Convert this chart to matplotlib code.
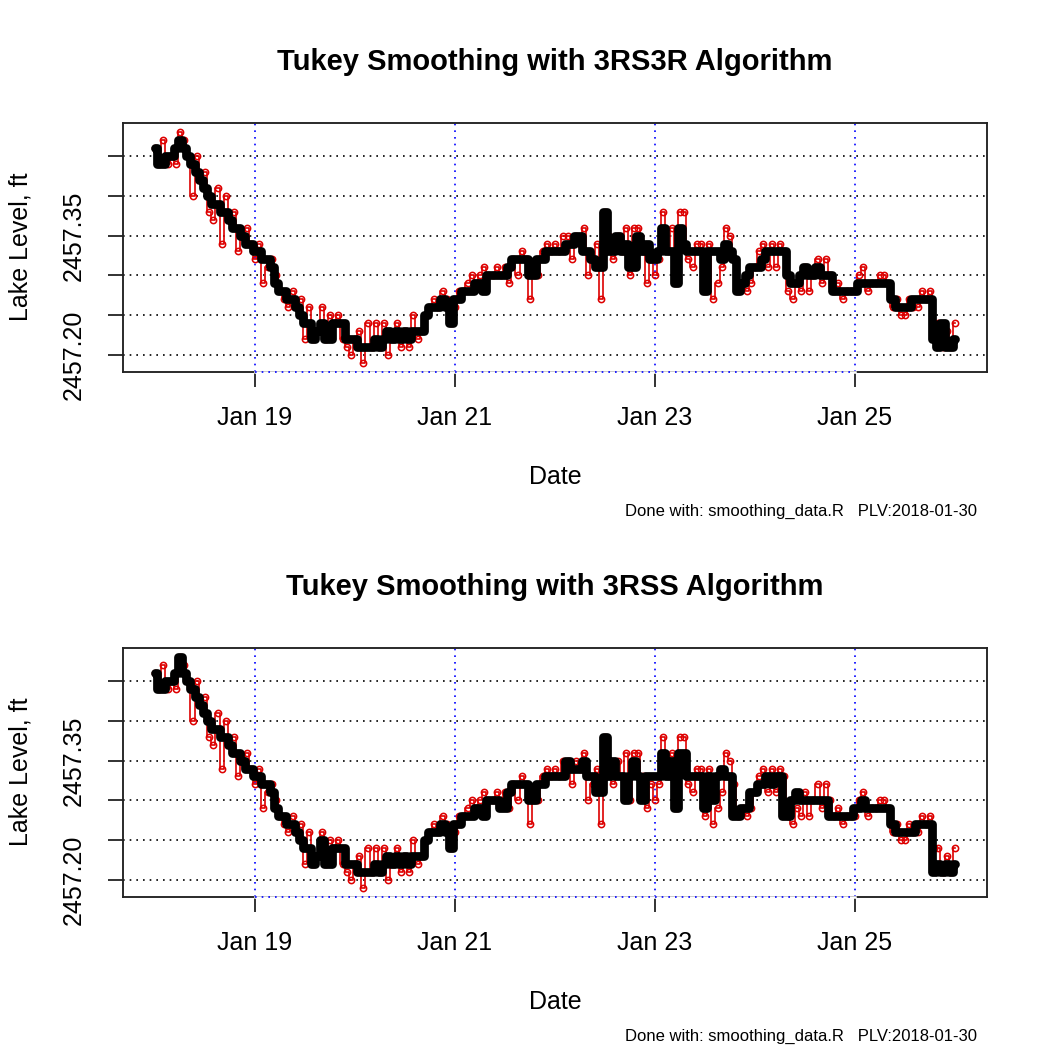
import numpy as np
import matplotlib
matplotlib.use("Agg")
import matplotlib.pyplot as plt
import matplotlib.dates as mdates

plt.rcParams['font.family'] = ['Liberation Sans', 'DejaVu Sans']

# hourly readings from 2018-01-18 00:00, in hundredths of a foot above 2457 ft
START = np.datetime64('2018-01-18T00:00')
BASE_FT = 2457.0

raw_level = [
    46, 44, 47, 44, 45, 44, 48, 47, 45, 40, 45, 42, 43, 38, 37, 41, 34, 40, 37, 38, 33, 35, 36, 34,
    32, 34, 29, 31, 32, 30, 28, 27, 26, 28, 26, 27, 22, 26, 22, 23, 26, 22, 25, 24, 25, 22, 21, 20,
    22, 23, 19, 24, 21, 24, 21, 24, 20, 22, 24, 21, 23, 21, 25, 22, 23, 25, 26, 27, 26, 28, 27, 24,
    26, 28, 28, 29, 30, 29, 30, 31, 30, 30, 31, 30, 31, 29, 32, 30, 33, 32, 27, 30, 30, 33, 34, 33,
    34, 33, 35, 35, 32, 35, 34, 36, 30, 32, 34, 27, 38, 35, 32, 35, 33, 36, 30, 36, 36, 33, 29, 32,
    30, 32, 38, 33, 36, 29, 38, 38, 32, 31, 34, 34, 28, 34, 27, 29, 31, 36, 35, 32, 28, 29, 28, 29,
    31, 33, 34, 31, 34, 31, 34, 33, 28, 27, 29, 28, 31, 28, 30, 32, 29, 32, 30, 28, 29, 27, 28, 28,
    28, 30, 31, 28, 29, 29, 30, 30, 29, 26, 27, 25, 25, 27, 26, 26, 28, 27, 28, 24, 24, 21, 23, 21,
    24,
]

smooth_3rs3r = [
    46, 44, 44, 45, 45, 46, 47, 46, 45, 44, 43, 42, 41, 40, 39, 39, 38, 38, 37, 36, 36, 35, 34, 34,
    33, 33, 32, 32, 31, 29, 28, 28, 27, 27, 26, 25, 24, 24, 22, 23, 24, 22, 22, 24, 24, 24, 22, 22,
    22, 21, 21, 21, 21, 22, 21, 22, 23, 22, 23, 22, 23, 22, 23, 23, 23, 25, 26, 26, 26, 27, 26, 24,
    27, 27, 28, 28, 28, 29, 29, 28, 30, 30, 30, 30, 30, 31, 32, 32, 32, 32, 30, 30, 32, 32, 33, 33,
    33, 33, 33, 34, 34, 35, 35, 33, 33, 32, 31, 31, 38, 33, 33, 35, 33, 34, 31, 31, 35, 33, 34, 32,
    32, 33, 36, 33, 33, 29, 36, 34, 33, 33, 33, 33, 28, 33, 33, 33, 32, 34, 33, 32, 28, 29, 30, 31,
    31, 31, 32, 33, 33, 33, 33, 33, 30, 29, 29, 30, 31, 30, 30, 31, 30, 30, 30, 28, 28, 28, 28, 28,
    28, 29, 29, 29, 29, 29, 29, 29, 29, 27, 26, 26, 26, 26, 27, 27, 27, 27, 27, 22, 21, 24, 21, 21,
    22,
]

smooth_3rss = [
    46, 44, 44, 45, 45, 46, 48, 46, 45, 44, 43, 42, 41, 40, 39, 39, 38, 38, 37, 36, 36, 35, 34, 34,
    33, 33, 32, 32, 31, 29, 28, 28, 27, 27, 26, 25, 24, 24, 22, 23, 25, 22, 22, 24, 24, 24, 22, 22,
    22, 21, 21, 21, 21, 22, 21, 22, 23, 22, 23, 22, 23, 22, 23, 23, 23, 25, 26, 26, 26, 27, 26, 24,
    27, 27, 28, 28, 28, 29, 29, 28, 30, 30, 30, 29, 29, 31, 32, 32, 32, 32, 30, 30, 32, 32, 33, 33,
    33, 33, 33, 35, 34, 34, 34, 35, 33, 33, 31, 31, 38, 33, 35, 33, 33, 30, 33, 35, 33, 30, 33, 33,
    33, 33, 36, 33, 35, 29, 36, 36, 33, 33, 33, 33, 29, 33, 30, 33, 34, 33, 33, 28, 28, 29, 29, 31,
    31, 32, 32, 33, 32, 33, 33, 28, 28, 30, 31, 30, 30, 30, 30, 30, 30, 30, 28, 28, 28, 28, 28, 28,
    29, 29, 30, 29, 29, 29, 29, 29, 29, 27, 26, 26, 26, 26, 26, 27, 27, 27, 27, 21, 22, 21, 22, 21,
    22,
]

ytick_levels = [2457.20, 2457.25, 2457.30, 2457.35, 2457.40, 2457.45]
ytick_labels = ["2457.20", "", "", "2457.35", "", ""]
xtick_dates = ['2018-01-19', '2018-01-21', '2018-01-23', '2018-01-25']
xtick_labels = ["Jan 19", "Jan 21", "Jan 23", "Jan 25"]

titles = ["Tukey Smoothing with 3RS3R Algorithm", "Tukey Smoothing with 3RSS Algorithm"]
footer = "Done with: smoothing_data.R   PLV:2018-01-30"

W = 1050.0


def fx(px):
    return px / W


def fy(py):
    return 1 - py / W


def draw_panel(fig, top, times, raw_ft, smooth_ft, title):
    ax = fig.add_axes([fx(123), fy(top + 249), 864 / W, 249 / W])

    # R style 4% axis padding
    t0, t1 = mdates.date2num(times[0]), mdates.date2num(times[-1])
    pad_t = 0.04 * (t1 - t0)
    ax.set_xlim(t0 - pad_t, t1 + pad_t)
    lo, hi = raw_ft.min(), raw_ft.max()
    pad_y = 0.04 * (hi - lo)
    ax.set_ylim(lo - pad_y, hi + pad_y)

    for lev in ytick_levels:
        ax.axhline(lev, color='black', lw=0.8, ls=(0, (1, 3)), zorder=1)
    xt = [mdates.date2num(np.datetime64(d)) for d in xtick_dates]
    for x in xt:
        ax.axvline(x, color='blue', lw=0.8, ls=(0, (1, 3)), zorder=1)

    ax.plot(times, raw_ft, color='#dd0000', lw=0.8, drawstyle='steps-mid',
            marker='o', ms=3.0, mfc='none', mec='#dd0000', mew=0.75, zorder=2)
    ax.plot(times, smooth_ft, color='black', lw=4.2, drawstyle='steps-mid',
            solid_capstyle='round', solid_joinstyle='round', zorder=3)

    ybot = lo - pad_y
    ax.plot([xt[0], xt[-1]], [ybot, ybot], color='white', lw=1.2, clip_on=False, zorder=5)
    ax.plot([xt[0], xt[-1]], [ybot, ybot], color='blue', lw=0.8, ls=(0, (1, 3)),
            clip_on=False, zorder=6)

    ax.set_yticks(ytick_levels)
    ax.set_yticklabels(ytick_labels, rotation=90, va='center', fontsize=12)
    ax.set_xticks(xt)
    ax.set_xticklabels(xtick_labels, fontsize=12)
    ax.tick_params(axis='both', direction='out', length=7.2, width=0.75, color='black')
    ax.tick_params(axis='y', pad=10.5)
    ax.tick_params(axis='x', pad=9)
    for sp in ax.spines.values():
        sp.set_linewidth(0.9)
        sp.set_color('#222222')

    fig.text(fx(555), fy(top - 61), title, ha='center', va='center',
             fontsize=14.0, fontweight='bold')
    fig.text(fx(555), fy(top + 354), 'Date', ha='center', va='center', fontsize=12)
    fig.text(fx(977), fy(top + 388), footer, ha='right', va='center', fontsize=8)
    fig.text(fx(21), fy(top + 124), 'Lake Level, ft', rotation=90,
             ha='center', va='center', fontsize=12)
    return ax


def main():
    n = len(raw_level)
    times = START + np.arange(n) * np.timedelta64(1, 'h')
    raw_ft = BASE_FT + np.array(raw_level) / 100.0

    fig = plt.figure(figsize=(7, 7), dpi=150)
    draw_panel(fig, 123, times, raw_ft, BASE_FT + np.array(smooth_3rs3r) / 100.0, titles[0])
    draw_panel(fig, 648, times, raw_ft, BASE_FT + np.array(smooth_3rss) / 100.0, titles[1])
    fig.savefig("out.png", dpi=150)
    plt.close(fig)


if __name__ == "__main__":
    main()
